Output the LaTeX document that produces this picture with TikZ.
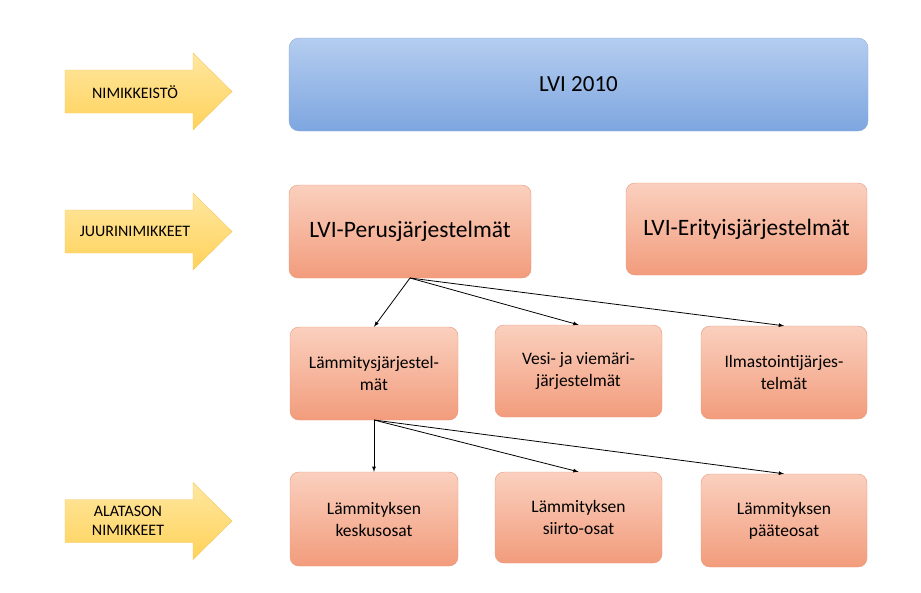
\documentclass[tikz,border=0pt]{standalone}
\usepackage{fontspec}
\setmainfont{Carlito}
\definecolor{bluetop}{HTML}{B4CDEF}
\definecolor{bluebot}{HTML}{7EA6E0}
\definecolor{blueedge}{HTML}{8AAAD8}
\definecolor{ortop}{HTML}{FAD0BE}
\definecolor{orbot}{HTML}{F29C7C}
\definecolor{oredge}{HTML}{E8957A}
\definecolor{yetop}{HTML}{FFE7A0}
\definecolor{yebot}{HTML}{FFD25A}
\definecolor{yeedge}{HTML}{F0C860}
\begin{document}
\begin{tikzpicture}[x=1pt,y=-1pt,
  bluebox/.style={draw=blueedge,rounded corners=10pt,top color=bluetop,bottom color=bluebot,font=\fontsize{23}{27}\selectfont,align=center},
  orbox/.style={draw=oredge,rounded corners=9pt,top color=ortop,bottom color=orbot,align=center},
  bigor/.style={orbox,font=\fontsize{23.5}{28}\selectfont},
  smallor/.style={orbox,font=\fontsize{17.5}{22}\selectfont},
  yarrow/.style={draw=yeedge,top color=yetop,bottom color=yebot},
  lab/.style={font=\fontsize{16}{19}\selectfont,align=center},
  conn/.style={-latex,thick}]
\useasboundingbox (0,0) rectangle (921,592);
% arrows
\foreach \yc/\nm in {91.5/a1,231.5/a2,521/a3}{
  \draw[yarrow] (65,\yc-21.5) -- (193,\yc-21.5) -- (193,\yc-38.5) -- (232,\yc) -- (193,\yc+38.5) -- (193,\yc+21.5) -- (65,\yc+21.5) -- cycle;
}
\node[lab] (t1) at (135,92) {NIMIKKEISTÖ};
\node[lab] (t2) at (135,231) {JUURINIMIKKEET};
\node[lab] (t3) at (128,521) {ALATASON\\NIMIKKEET};
% boxes
\node[bluebox,minimum width=579pt,minimum height=93pt] (lvi) at (578.5,84.5) {LVI 2010};
\node[bigor,minimum width=242pt,minimum height=93pt] (perus) at (410,231.5) {LVI-Perusjärjestelmät};
\node[bigor,minimum width=241pt,minimum height=92pt] (erit) at (746.5,229) {LVI-Erityisjärjestelmät};
\node[smallor,minimum width=168pt,minimum height=93pt] (lam) at (374,373.5) {Lämmitysjärjestel-\\mät};
\node[smallor,minimum width=167pt,minimum height=92pt] (vesi) at (578.5,371) {Vesi- ja viemäri-\\järjestelmät};
\node[smallor,minimum width=166pt,minimum height=93pt] (ilma) at (784,372.5) {Ilmastointijärjes-\\telmät};
\node[smallor,minimum width=168pt,minimum height=94pt] (kes) at (374,519) {Lämmityksen\\keskusosat};
\node[smallor,minimum width=167pt,minimum height=91pt] (sii) at (578.5,517.5) {Lämmityksen\\siirto-osat};
\node[smallor,minimum width=166pt,minimum height=93pt] (paa) at (784,520.5) {Lämmityksen\\pääteosat};
% connectors
\coordinate (p0) at (410,278);
\draw[conn] (p0) -- (lam.north);
\draw[conn] (p0) -- (vesi.north);
\draw[conn] (p0) -- (ilma.north);
\coordinate (q0) at (374,420);
\draw[conn] (q0) -- (kes.north);
\draw[conn] (q0) -- (sii.north);
\draw[conn] (q0) -- (paa.north);
\end{tikzpicture}
\end{document}
